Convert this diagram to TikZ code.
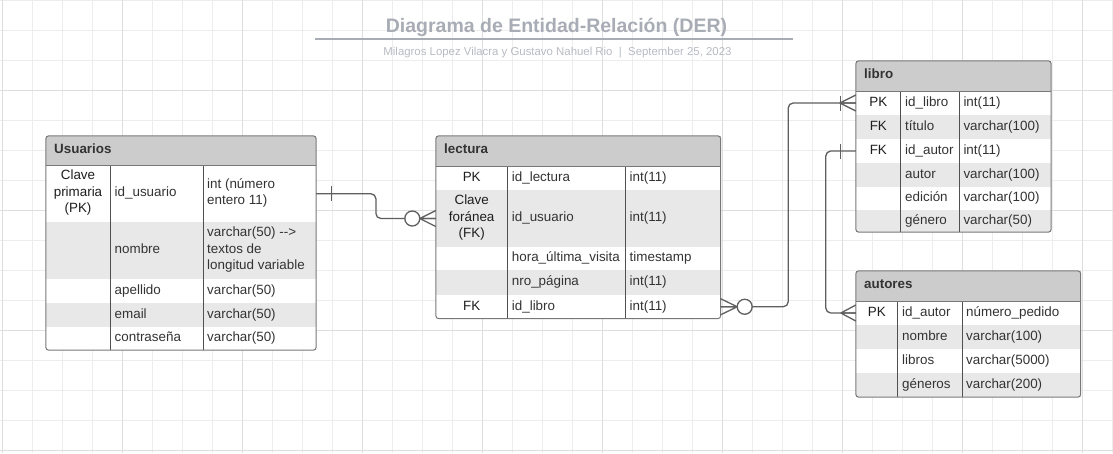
\documentclass[tikz,border=0pt]{standalone}
\usepackage{fontspec}
\setmainfont{Liberation Sans}
\usepackage{tikz}
\usepackage{xcolor}

\definecolor{gridmin}{RGB}{237,237,237}
\definecolor{gridmaj}{RGB}{222,222,222}
\definecolor{headfill}{RGB}{204,204,204}
\definecolor{stripe}{RGB}{232,232,232}
\definecolor{framegray}{RGB}{120,120,120}
\definecolor{colgray}{RGB}{80,80,80}
\definecolor{linkgray}{RGB}{95,95,95}
\definecolor{txtgray}{RGB}{51,51,51}
\definecolor{keygray}{RGB}{30,30,30}
\definecolor{titlegray}{RGB}{168,172,181}
\definecolor{subgray}{RGB}{184,187,194}

\newcommand{\cellfont}{\fontsize{13.4}{16.5}\selectfont}

\begin{document}
\begin{tikzpicture}[x=1pt,y=-1pt,
  row/.style={rectangle,inner sep=0pt,fill=white},
  hdr/.style={row,fill=headfill},
  striped/.style={fill=stripe},
  headtxt/.style={anchor=west,inner sep=0pt,text height=9.7pt,text depth=2.8pt,font=\cellfont\bfseries,text=txtgray},
  keytxt/.style={inner sep=0pt,text height=9.7pt,text depth=2.8pt,font=\cellfont,text=keygray},
  celltxt/.style={anchor=west,inner sep=0pt,text height=9.7pt,text depth=2.8pt,font=\cellfont,text=txtgray},
  keymulti/.style={inner sep=0pt,align=center,font=\cellfont,text=keygray},
  cellmulti/.style={anchor=west,inner sep=0pt,align=left,font=\cellfont,text=txtgray},
  tabframe/.style={draw=framegray,line width=1pt,rounded corners=3pt},
  coldiv/.style={draw=colgray,line width=0.9pt},
  conn/.style={draw=linkgray,line width=1.3pt},
  gridminor/.style={draw=gridmin,line width=0.8pt},
  gridmajor/.style={draw=gridmaj,line width=0.9pt}]

\useasboundingbox (0,0) rectangle (1113,453);
\fill[white] (0,0) rectangle (1113,453);

% grid
\foreach \gx in {2,32,...,1112} \draw[gridminor] (\gx,0) -- (\gx,453);
\foreach \gy in {0.5,30.5,...,452} \draw[gridminor] (0,\gy) -- (1113,\gy);
\foreach \gx in {2,122,...,1112} \draw[gridmajor] (\gx,0) -- (\gx,453);
\foreach \gy in {90.5,210.5,330.5,450.5} \draw[gridmajor] (0,\gy) -- (1113,\gy);

% title
\node[anchor=base,inner sep=0pt,font=\fontsize{19.5}{22}\selectfont\bfseries,text=titlegray] (ttl) at (556.5,32) {Diagrama de Entidad-Relación (DER)};
\draw[draw=titlegray,line width=1.4pt] (315,39) -- (793,39);
\node[anchor=base,inner sep=0pt,font=\fontsize{11.4}{13}\selectfont,text=subgray] (sub) at (557.5,55) {Milagros Lopez Vilacra y Gustavo Nahuel Rio~~|~~September 25, 2023};

% Usuarios
\node[hdr,minimum width=270pt,minimum height=29.5pt] (u0) at (181,150.75) {};
\node[row,minimum width=270pt,minimum height=56.5pt] (u1) at (181,193.75) {};
\node[row,striped,minimum width=270pt,minimum height=57pt] (u2) at (181,250.5) {};
\node[row,minimum width=270pt,minimum height=24pt] (u3) at (181,291) {};
\node[row,striped,minimum width=270pt,minimum height=24pt] (u4) at (181,315) {};
\node[row,minimum width=270pt,minimum height=23pt] (u5) at (181,338.5) {};
\node[headtxt] (u0t) at (54,150.5) {Usuarios};
\node[keymulti] (u1k) at (78,193) {Clave\\primaria\\(PK)};
\node[celltxt] (u1n) at (114.5,193.5) {id\_usuario};
\node[cellmulti] (u1t) at (207,193) {int (número\\entero 11)};
\node[celltxt] (u2n) at (114.5,250.5) {nombre};
\node[cellmulti] (u2t) at (207,250) {varchar(50) {-}{-}>\\textos de\\longitud variable};
\node[celltxt] (u3n) at (114.5,291) {apellido};
\node[celltxt] (u3t) at (207,291) {varchar(50)};
\node[celltxt] (u4n) at (114.5,315) {email};
\node[celltxt] (u4t) at (207,315) {varchar(50)};
\node[celltxt] (u5n) at (114.5,338.5) {contraseña};
\node[celltxt] (u5t) at (207,338.5) {varchar(50)};
\draw[coldiv] (110,165.5) -- (110,350);
\draw[coldiv] (203.3,165.5) -- (203.3,350);
\draw[draw=framegray,line width=1pt] (u0.south west) -- (u0.south east);
\draw[tabframe] (u0.north west) rectangle (u5.south east);

% lectura
\node[hdr,minimum width=284.5pt,minimum height=30pt] (l0) at (578.25,151) {};
\node[row,minimum width=284.5pt,minimum height=24pt] (l1) at (578.25,178) {};
\node[row,striped,minimum width=284.5pt,minimum height=57pt] (l2) at (578.25,218.5) {};
\node[row,minimum width=284.5pt,minimum height=23pt] (l3) at (578.25,258.5) {};
\node[row,striped,minimum width=284.5pt,minimum height=25pt] (l4) at (578.25,282.5) {};
\node[row,minimum width=284.5pt,minimum height=23.5pt] (l5) at (578.25,306.75) {};
\node[headtxt] (l0t) at (444,150.5) {lectura};
\node[keytxt] (l1k) at (471.7,178) {PK};
\node[celltxt] (l1n) at (511.7,178) {id\_lectura};
\node[celltxt] (l1t) at (629.5,178) {int(11)};
\node[keymulti] (l2k) at (471.7,218) {Clave\\foránea\\(FK)};
\node[celltxt] (l2n) at (511.7,218.5) {id\_usuario};
\node[celltxt] (l2t) at (629.5,218.5) {int(11)};
\node[celltxt] (l3n) at (511.7,258.5) {hora\_última\_visita};
\node[celltxt] (l3t) at (629.5,258.5) {timestamp};
\node[celltxt] (l4n) at (511.7,282.5) {nro\_página};
\node[celltxt] (l4t) at (629.5,282.5) {int(11)};
\node[keytxt] (l5k) at (471.7,306.75) {FK};
\node[celltxt] (l5n) at (511.7,306.75) {id\_libro};
\node[celltxt] (l5t) at (629.5,306.75) {int(11)};
\draw[coldiv] (507.3,166) -- (507.3,318.5);
\draw[coldiv] (625.7,166) -- (625.7,318.5);
\draw[draw=framegray,line width=1pt] (l0.south west) -- (l0.south east);
\draw[tabframe] (l0.north west) rectangle (l5.south east);

% libro
\node[hdr,minimum width=195pt,minimum height=30pt] (b0) at (953.5,76) {};
\node[row,minimum width=195pt,minimum height=24pt] (b1) at (953.5,103) {};
\node[row,striped,minimum width=195pt,minimum height=24pt] (b2) at (953.5,127) {};
\node[row,minimum width=195pt,minimum height=24pt] (b3) at (953.5,151) {};
\node[row,striped,minimum width=195pt,minimum height=24pt] (b4) at (953.5,175) {};
\node[row,minimum width=195pt,minimum height=23pt] (b5) at (953.5,198.5) {};
\node[row,striped,minimum width=195pt,minimum height=22pt] (b6) at (953.5,221) {};
\node[headtxt] (b0t) at (864,75.5) {libro};
\node[keytxt] (b1k) at (878.3,103) {PK};
\node[celltxt] (b1n) at (905,103) {id\_libro};
\node[celltxt] (b1t) at (963.3,103) {int(11)};
\node[keytxt] (b2k) at (878.3,127) {FK};
\node[celltxt] (b2n) at (905,127) {título};
\node[celltxt] (b2t) at (963.3,127) {varchar(100)};
\node[keytxt] (b3k) at (878.3,151) {FK};
\node[celltxt] (b3n) at (905,151) {id\_autor};
\node[celltxt] (b3t) at (963.3,151) {int(11)};
\node[celltxt] (b4n) at (905,175) {autor};
\node[celltxt] (b4t) at (963.3,175) {varchar(100)};
\node[celltxt] (b5n) at (905,198.5) {edición};
\node[celltxt] (b5t) at (963.3,198.5) {varchar(100)};
\node[celltxt] (b6n) at (905,221) {género};
\node[celltxt] (b6t) at (963.3,221) {varchar(50)};
\draw[coldiv] (900.7,91) -- (900.7,232);
\draw[coldiv] (959.3,91) -- (959.3,232);
\draw[draw=framegray,line width=1pt] (b0.south west) -- (b0.south east);
\draw[tabframe] (b0.north west) rectangle (b6.south east);

% autores
\node[hdr,minimum width=224.5pt,minimum height=30pt] (a0) at (968.25,286) {};
\node[row,minimum width=224.5pt,minimum height=24pt] (a1) at (968.25,313) {};
\node[row,striped,minimum width=224.5pt,minimum height=24pt] (a2) at (968.25,337) {};
\node[row,minimum width=224.5pt,minimum height=24pt] (a3) at (968.25,361) {};
\node[row,striped,minimum width=224.5pt,minimum height=24pt] (a4) at (968.25,385) {};
\node[headtxt] (a0t) at (864,285.5) {autores};
\node[keytxt] (a1k) at (876.8,313) {PK};
\node[celltxt] (a1n) at (902,313) {id\_autor};
\node[celltxt] (a1t) at (966,313) {número\_pedido};
\node[celltxt] (a2n) at (902,337) {nombre};
\node[celltxt] (a2t) at (966,337) {varchar(100)};
\node[celltxt] (a3n) at (902,361) {libros};
\node[celltxt] (a3t) at (966,361) {varchar(5000)};
\node[celltxt] (a4n) at (902,385) {géneros};
\node[celltxt] (a4t) at (966,385) {varchar(200)};
\draw[coldiv] (897.7,301) -- (897.7,397);
\draw[coldiv] (962.3,301) -- (962.3,397);
\draw[draw=framegray,line width=1pt] (a0.south west) -- (a0.south east);
\draw[tabframe] (a0.north west) rectangle (a4.south east);

% Usuarios -- lectura
\draw[conn,rounded corners=5pt] (u1.east) -- ++(59.7,0) |- (l2.west);
\draw[conn] ([xshift=15]u1.east) +(0,-7.5) -- +(0,7.5);
\draw[conn] ([xshift=-16]l2.west) -- ([yshift=8]l2.west)
  ([xshift=-16]l2.west) -- (l2.west)
  ([xshift=-16]l2.west) -- ([yshift=-8]l2.west);
\draw[conn,fill=white] ([xshift=-23.5]l2.west) circle (7.5pt);

% lectura -- libro
\draw[conn,rounded corners=5pt] (l5.east) -- ++(67.5,0) |- (b1.west);
\draw[conn] ([xshift=16.5]l5.east) -- ([yshift=8]l5.east)
  ([xshift=16.5]l5.east) -- (l5.east)
  ([xshift=16.5]l5.east) -- ([yshift=-8]l5.east);
\draw[conn,fill=white] ([xshift=24]l5.east) circle (7.5pt);
\draw[conn] ([xshift=-16]b1.west) -- ([yshift=8]b1.west)
  ([xshift=-16]b1.west) -- (b1.west)
  ([xshift=-16]b1.west) -- ([yshift=-8]b1.west);
\draw[conn] ([xshift=-15]b1.west) +(0,-7.5) -- +(0,7.5);

% libro -- autores
\draw[conn,rounded corners=5pt] (b3.west) -- ++(-30,0) |- (a1.west);
\draw[conn] ([xshift=-15]b3.west) +(0,-7.5) -- +(0,7.5);
\draw[conn] ([xshift=-15]a1.west) -- ([yshift=8]a1.west)
  ([xshift=-15]a1.west) -- (a1.west)
  ([xshift=-15]a1.west) -- ([yshift=-8]a1.west);
\end{tikzpicture}
\end{document}
